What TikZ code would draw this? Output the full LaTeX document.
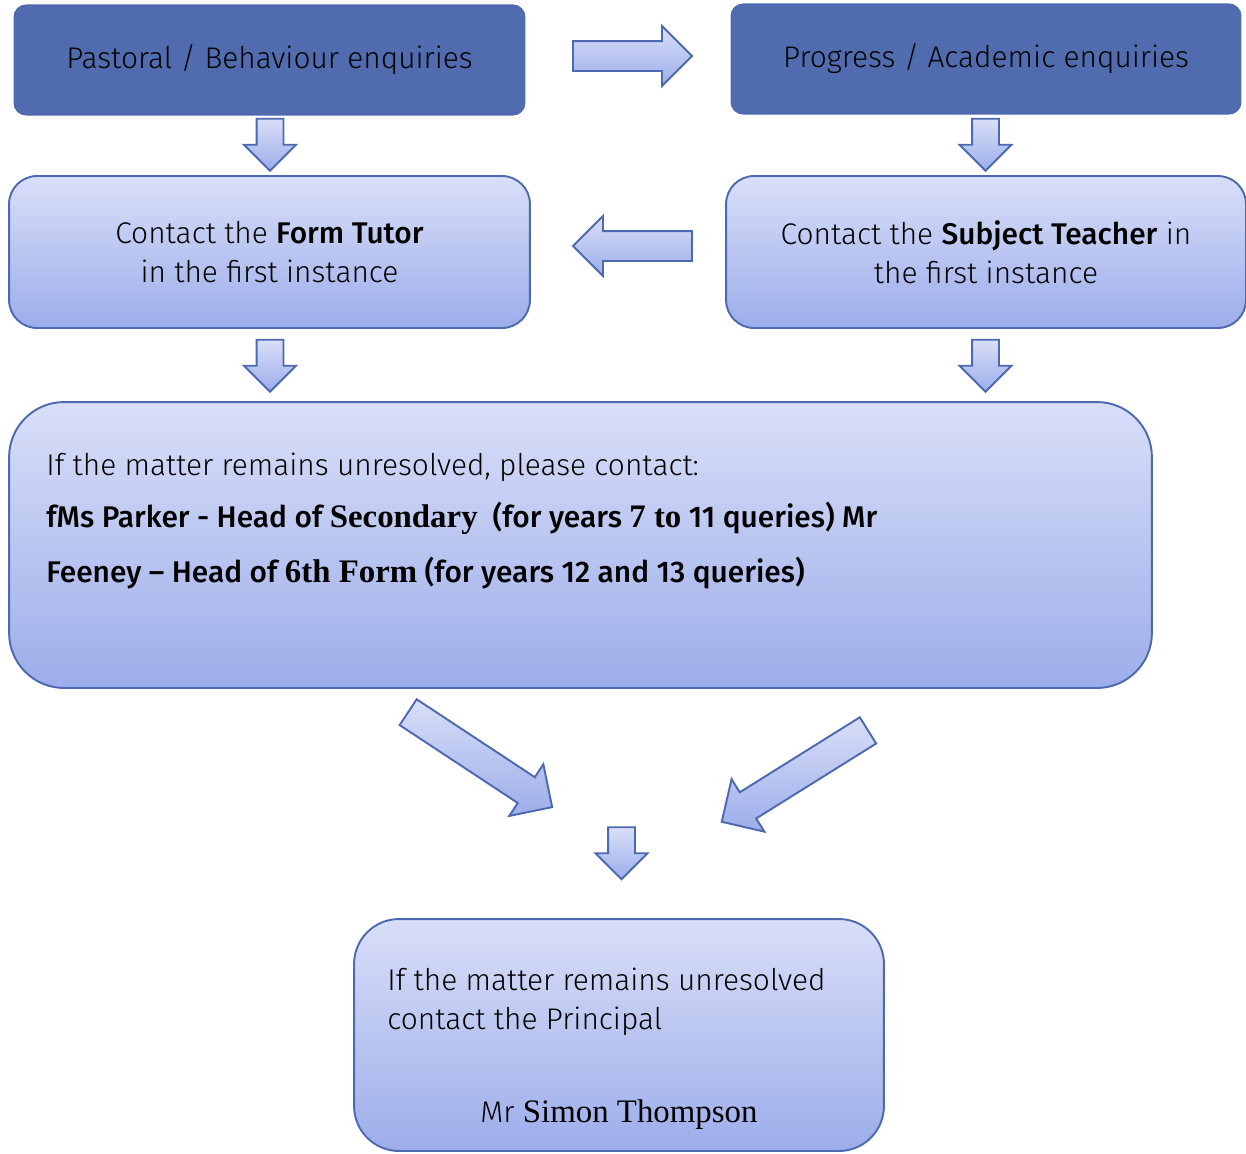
\documentclass[tikz,border=0pt]{standalone}
\usepackage{fontspec}
\setmainfont{Fira Sans}[UprightFont=* Light, BoldFont=* Medium]
\newfontfamily\seriffam{Liberation Serif}[Scale=1.1]
\usepackage{tikz}
\usetikzlibrary{shapes.arrows}
\definecolor{hdrblue}{HTML}{506CAF}
\definecolor{edgeblue}{HTML}{4D69B0}
\definecolor{toplight}{HTML}{D9DFF8}
\definecolor{botdark}{HTML}{9CADEA}
\newcommand{\sr}[1]{{\seriffam\bfseries #1}}

\tikzset{
  headbox/.style={draw=edgeblue, line width=0.6pt, fill=hdrblue, rounded corners=0.24cm, inner sep=0pt},
  stepbox/.style={draw=edgeblue, line width=1.1pt, top color=toplight, bottom color=botdark, rounded corners=0.56cm, inner sep=0pt, align=center},
  blockarrow/.style={single arrow, draw=edgeblue, line width=1.1pt, top color=toplight, bottom color=botdark, single arrow tip angle=90},
  downarrow/.style={blockarrow, shape border rotate=270, minimum height=1.04cm, inner xsep=0.25cm, inner ysep=0pt, single arrow head extend=0.25cm},
  sidearrow/.style={blockarrow, minimum height=2.38cm, inner xsep=0pt, inner ysep=0.28cm, single arrow head extend=0.3cm},
  slantarrow/.style={blockarrow, minimum height=3.45cm, inner xsep=0pt, inner ysep=0.29cm, single arrow head extend=0.31cm},
}

\begin{document}
\begin{tikzpicture}[x=0.02cm, y=-0.02cm, font=\fontsize{17}{22}\selectfont]
        \useasboundingbox (0,0) rectangle (1246,1153);
        % Enquiry boxes
        \node[headbox, minimum width=10.22cm, minimum height=2.2cm] (pastoral) at (269.5,60) {Pastoral~/~Behaviour enquiries};
        \node[headbox, minimum width=10.2cm, minimum height=2.2cm] (progress) at (986,59) {Progress~/~Academic enquiries};
        % First contact
        \node[stepbox, minimum width=10.42cm, minimum height=3.04cm] (tutor) at (269.5,252) {Contact the \textbf{Form Tutor}\\in the first instance};
        \node[stepbox, minimum width=10.4cm, minimum height=3.04cm] (teacher) at (986,252) {Contact the \textbf{Subject Teacher} in\\the first instance};
        %
        % Heads of school
        \node[stepbox, rounded corners=1.1cm, minimum width=22.86cm, minimum height=5.72cm] (heads) at (580.5,545) {};
        \node[anchor=base west, inner sep=0pt] (headsa) at (46,475) {If the matter remains unresolved, please contact:};
        \node[anchor=base west, inner sep=0pt] (headsb) at (46,527) {\textbf{fMs Parker - Head of \sr{Secondary}\ \ (for years \sr{7 to} 11 queries) Mr}};
        \node[anchor=base west, inner sep=0pt] (headsc) at (46,582) {\textbf{Feeney -- Head of \sr{6th Form} (for years 12 and 13 queries)}};
        %
        % Principal
        \node[stepbox, rounded corners=0.9cm, minimum width=10.6cm, minimum height=4.64cm] (principal) at (619,1035) {};
        \node[anchor=base west, inner sep=0pt] (principala) at (387,990) {If the matter remains unresolved};
        \node[anchor=base west, inner sep=0pt] (principalb) at (387,1029) {contact the Principal};
        \node[anchor=base, inner sep=0pt] (principalc) at (619,1122) {Mr \seriffam Simon Thompson};
        %
        % Block arrows:
        \node[sidearrow] (toacademic) at (625,56) {};
        \node[sidearrow, shape border rotate=180] (totutor) at (640,246) {};
        \node[downarrow] (downa) at (270,138) {};
        \node[downarrow] (downb) at (985.5,138) {};
        \node[downarrow] (downc) at (270,359) {};
        \node[downarrow] (downd) at (985.5,359) {};
        \node[slantarrow, rotate=-33.4] (slanta) at (473.7,755.4) {};
        \node[slantarrow, rotate=212] (slantb) at (801.4,772) {};
        \node[downarrow] (downe) at (621.5,846.5) {};
\end{tikzpicture}
\end{document}
